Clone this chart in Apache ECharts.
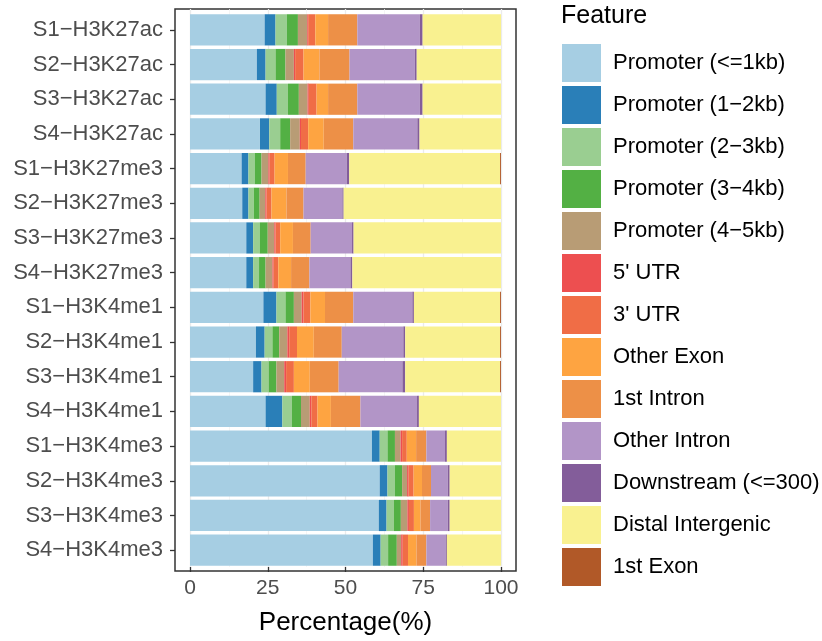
<!DOCTYPE html>
<html>
<head>
<meta charset="utf-8">
<script src="https://cdn.jsdelivr.net/npm/echarts@6/dist/echarts.min.js"></script>
<style>html,body{margin:0;padding:0;background:#fff;}#c{width:822px;height:641px;}</style>
</head>
<body>
<div id="c"></div>
<script>
const categories = ["S1−H3K27ac","S2−H3K27ac","S3−H3K27ac","S4−H3K27ac",
  "S1−H3K27me3","S2−H3K27me3","S3−H3K27me3","S4−H3K27me3",
  "S1−H3K4me1","S2−H3K4me1","S3−H3K4me1","S4−H3K4me1",
  "S1−H3K4me3","S2−H3K4me3","S3−H3K4me3","S4−H3K4me3"];
const features = ["Promoter (<=1kb)","Promoter (1−2kb)","Promoter (2−3kb)","Promoter (3−4kb)","Promoter (4−5kb)",
  "5' UTR","3' UTR","Other Exon","1st Intron","Other Intron","Downstream (<=300)","Distal Intergenic","1st Exon"];
const colors = ["#A6CEE3","#2A7FB8","#9ACE91","#53B044","#B89C75","#ED4F50","#F06D46","#FEA441","#ED9047","#B295C7","#835D9A","#F9F190","#B15928"];
const promoter1kb = [24.0,21.5,24.3,22.5,16.6,16.8,18.1,18.1,23.6,21.2,20.3,24.3,58.5,61.0,60.7,58.8];
const promoter2kb = [3.5,2.8,3.6,3.0,2.2,2.0,2.2,2.2,4.2,2.8,2.7,5.4,2.5,2.5,2.5,2.5];
const promoter3kb = [3.6,3.2,3.6,3.5,2.0,1.7,2.1,1.9,2.9,2.5,2.3,3.1,2.5,2.4,2.4,2.4];
const promoter4kb = [3.6,3.2,3.5,3.2,2.2,1.9,2.6,2.1,2.7,2.2,2.5,2.9,2.4,2.3,2.2,2.8];
const promoter5kb = [3.0,2.7,2.8,3.1,2.2,1.8,2.1,2.2,2.5,2.6,2.5,2.8,1.8,1.6,2.1,1.4];
const utr5 = [0.3,0.4,0.4,0.4,0.4,0.4,0.4,0.4,0.6,0.6,0.6,0.5,0.5,0.5,0.5,0.5];
const utr3 = [2.3,2.7,2.5,2.3,1.6,1.6,1.5,1.5,2.2,2.5,2.5,2.0,1.5,1.6,1.6,1.7];
const otherExon = [4.1,5.1,3.7,5.0,4.3,4.8,4.1,4.1,4.7,5.4,5.1,4.3,3.0,2.7,2.1,2.7];
const firstIntron = [9.4,9.7,9.4,9.5,5.7,5.5,5.7,5.9,9.1,9.0,9.3,9.5,3.3,2.9,3.1,3.2];
const otherIntron = [20.1,21.0,20.1,20.6,13.2,12.5,13.3,13.2,19.0,19.8,20.5,18.2,6.0,5.4,5.7,6.2];
const downstream = [0.9,0.6,0.9,0.7,0.8,0.4,0.5,0.6,0.5,0.6,0.9,0.6,0.6,0.6,0.6,0.4];
const distal = [25.2,27.1,25.2,26.2,48.5,50.6,47.4,47.8,27.7,30.5,30.5,26.4,17.4,16.5,16.5,17.4];
const firstExon = [0,0,0,0,0.3,0,0,0,0.3,0.3,0.3,0,0,0,0,0];
const xTicks = [0,25,50,75,100];

const seriesValues = [promoter1kb,promoter2kb,promoter3kb,promoter4kb,promoter5kb,utr5,utr3,otherExon,firstIntron,otherIntron,downstream,distal,firstExon];
const FONT = "'Liberation Sans', Arial, Helvetica, sans-serif";

const chart = echarts.init(document.getElementById('c'), null, {renderer:'canvas'});
chart.setOption({
  animation: false,
  backgroundColor: '#fff',
  textStyle: {fontFamily: FONT},
  title: {text: 'Feature', left: 556, top: -1, textStyle: {fontSize: 25, fontWeight: 'normal', color: '#000', fontFamily: FONT}},
  legend: {
    orient: 'vertical', left: 557, top: 39, itemWidth: 39, itemHeight: 38, itemGap: 4,
    icon: 'rect', selectedMode: false, data: features,
    textStyle: {fontSize: 22, color: '#000', fontFamily: FONT, padding: [0,0,0,7]}
  },
  grid: [
    {left: 190, right: 321, top: 12.5, bottom: 73.5},
    {left: 190, right: 321, top: 9, bottom: 70},
    {left: 175, right: 306, top: 9, bottom: 70, show: true, borderColor: '#333', borderWidth: 1.5, backgroundColor: 'transparent'},
    {left: 175, right: 306, top: 12.5, bottom: 73.5}
  ],
  xAxis: [
    {gridIndex: 0, type: 'value', min: 0, max: 100, show: false},
    {gridIndex: 1, type: 'value', min: 0, max: 100, interval: 25,
     axisLine: {show: false},
     axisTick: {show: true, length: 5, lineStyle: {color: '#333', width: 1.3}},
     axisLabel: {fontSize: 21, color: '#4D4D4D', margin: 11, fontFamily: FONT, customValues: xTicks},
     splitLine: {show: true, lineStyle: {color: '#EBEBEB', width: 1.3}},
     minorTick: {show: false, splitNumber: 2},
     minorSplitLine: {show: true, lineStyle: {color: '#F2F2F2', width: 0.8}},
     name: 'Percentage(%)', nameLocation: 'middle', nameGap: 43,
     nameTextStyle: {fontSize: 26, color: '#000', fontFamily: FONT}},
    {gridIndex: 2, type: 'value', show: false},
    {gridIndex: 3, type: 'value', show: false}
  ],
  yAxis: [
    {gridIndex: 0, type: 'category', data: categories, inverse: true, show: false},
    {gridIndex: 1, type: 'value', show: false},
    {gridIndex: 2, type: 'value', show: false},
    {gridIndex: 3, type: 'category', data: categories, inverse: true,
     axisLine: {show: false},
     axisTick: {show: true, alignWithLabel: true, length: 5, lineStyle: {color: '#333', width: 1.3}},
     axisLabel: {fontSize: 22, color: '#4D4D4D', margin: 12, fontFamily: FONT},
     splitLine: {show: false}}
  ],
  series: features.map((f, i) => ({
    name: f, type: 'bar', stack: 'total', xAxisIndex: 0, yAxisIndex: 0,
    barCategoryGap: '10%', data: seriesValues[i],
    itemStyle: {color: colors[i]}, emphasis: {disabled: true}
  }))
});
</script>
</body>
</html>
